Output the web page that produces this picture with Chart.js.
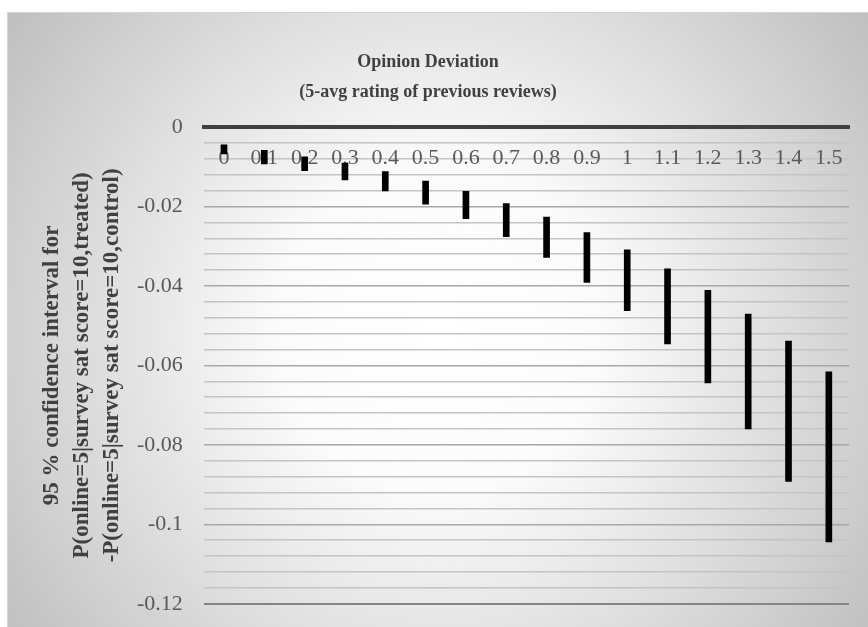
<!DOCTYPE html>
<html>
<head>
<meta charset="utf-8">
<script src="https://cdn.jsdelivr.net/npm/chart.js@4.4.1/dist/chart.umd.min.js"></script>
<style>
html, body { margin: 0; padding: 0; background: #fff; }
#wrap { width: 868px; height: 627px; }
</style>
</head>
<body>
<div id="wrap"><canvas id="devChart" width="868" height="627"></canvas></div>
<script>
// categories (opinion deviation)
const categories = ['0', '0.1', '0.2', '0.3', '0.4', '0.5', '0.6', '0.7',
                    '0.8', '0.9', '1', '1.1', '1.2', '1.3', '1.4', '1.5'];

// 95% CI bounds
const upperBound = [-0.0045, -0.0059, -0.0075, -0.0091, -0.0112, -0.0136, -0.0162, -0.0193,
                    -0.0227, -0.0266, -0.0309, -0.0357, -0.0411, -0.0471, -0.0539, -0.0616];
const lowerBound = [-0.0068, -0.0093, -0.0110, -0.0133, -0.0161, -0.0194, -0.0231, -0.0276,
                    -0.0328, -0.0391, -0.0462, -0.0546, -0.0644, -0.0760, -0.0892, -0.1044];

// labelled y ticks (minor lines every 0.004 in between)
const majorTicks = [0, -0.02, -0.04, -0.06, -0.08, -0.1, -0.12];

const SERIF = "'Liberation Serif', 'Times New Roman', serif";
const DARK = '#404040';

const intervals = categories.map((c, i) => [lowerBound[i], upperBound[i]]);

function isMajor(v) {
    const k = Math.round(v * 1000);
    return majorTicks.some(m => Math.round(m * 1000) === k);
}

// grey radial backdrop like the office chart area
const backdrop = {
    id: 'backdrop',
    beforeDraw(chart) {
        const ctx = chart.ctx;
        ctx.save();
        ctx.fillStyle = '#ffffff';
        ctx.fillRect(0, 0, chart.width, chart.height);
        const g = ctx.createRadialGradient(440, 330, 0, 440, 330, 545);
        g.addColorStop(0, '#ffffff');
        g.addColorStop(0.3, '#fbfbfb');
        g.addColorStop(1, '#bdbdbd');
        ctx.fillStyle = g;
        ctx.fillRect(7, 12, chart.width - 7, chart.height - 12);
        ctx.strokeStyle = '#d4d4d4';
        ctx.lineWidth = 1;
        ctx.strokeRect(7.5, 12.5, chart.width, chart.height);
        ctx.restore();
    }
};

new Chart(document.getElementById('devChart'), {
    type: 'bar',
    data: {
        labels: categories,
        datasets: [{
            data: intervals,
            backgroundColor: '#000000',
            barThickness: 6
        }]
    },
    plugins: [backdrop],
    options: {
        responsive: false,
        animation: false,
        layout: { padding: { top: 12, left: 7, right: 19, bottom: 23 } },
        plugins: {
            legend: { display: false },
            tooltip: { enabled: false },
            title: {
                display: true,
                text: ['Opinion Deviation', '(5-avg rating of previous reviews)'],
                color: DARK,
                font: { family: SERIF, size: 18, weight: 'bold', lineHeight: '30px' },
                padding: { top: 35, bottom: 20 }
            }
        },
        scales: {
            x: {
                position: { y: 0 },
                grid: { display: false, drawTicks: false },
                border: { display: true, color: DARK, width: 4 },
                ticks: {
                    color: '#595959',
                    font: { family: SERIF, size: 22 },
                    padding: 18,
                    autoSkip: false,
                    maxRotation: 0
                }
            },
            y: {
                min: -0.12,
                max: 0,
                grid: {
                    drawTicks: false,
                    lineWidth: ctx => {
                        const k = ctx.tick ? Math.round(ctx.tick.value * 1000) : 0;
                        if (k === 0) return 0;        // zero line is the x axis border
                        return k === -120 ? 2 : 1.5;
                    },
                    color: ctx => {
                        const v = ctx.tick ? ctx.tick.value : 0;
                        if (Math.round(v * 1000) === -120) return '#858585';
                        return isMajor(v) ? '#a8a8a8' : '#c4c4c4';
                    }
                },
                border: { display: false },
                ticks: {
                    stepSize: 0.004,
                    autoSkip: false,
                    padding: 21,
                    color: '#595959',
                    // tiny line height so the end labels don't eat layout space
                    font: { family: SERIF, size: 22, lineHeight: 0.2 },
                    callback: v => (isMajor(v) ? String(Math.round(v * 1000) / 1000 || 0) : '')
                },
                title: {
                    display: true,
                    text: ['95 % confidence interval for',
                           'P(online=5|survey sat score=10,treated)',
                           '-P(online=5|survey sat score=10,control)'],
                    color: DARK,
                    font: { family: SERIF, size: 23, weight: 'bold', lineHeight: '30px' },
                    padding: { top: 30, bottom: -11 }
                }
            }
        }
    }
});
</script>
</body>
</html>
